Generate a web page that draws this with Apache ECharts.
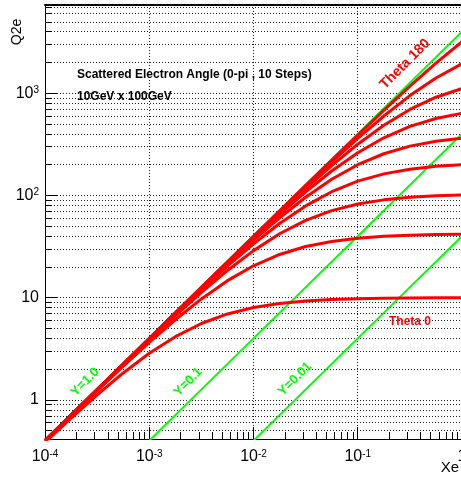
<!DOCTYPE html>
<html><head><meta charset="utf-8">
<script src="https://cdn.jsdelivr.net/npm/echarts@6/dist/echarts.min.js"></script>
<style>html,body{margin:0;padding:0;background:#fff;}#c{width:461px;height:479px;}</style>
</head><body><div id="c"></div>
<script>
// ---- data ----
const xe = [1e-4, 1.778e-4, 3.162e-4, 5.623e-4, 1e-3, 1.778e-3, 3.162e-3, 5.623e-3, 0.01, 0.01778, 0.03162, 0.05623, 0.1, 0.1778, 0.3162, 0.5623, 1];
const theta1 = [0.385, 0.664, 1.123, 1.837, 2.860, 4.162, 5.595, 6.939, 8.022, 8.794, 9.297, 9.606, 9.789, 9.894, 9.955, 9.990, 10.01];
const theta2 = [0.396, 0.700, 1.228, 2.136, 3.654, 6.088, 9.734, 14.68, 20.54, 26.50, 31.66, 35.55, 38.20, 39.86, 40.87, 41.45, 41.79];
const theta3 = [0.398, 0.706, 1.250, 2.202, 3.852, 6.657, 11.28, 18.49, 28.88, 42.22, 57.03, 71.05, 82.44, 90.62, 95.97, 99.27, 101.2];
const theta4 = [0.399, 0.709, 1.257, 2.226, 3.926, 6.881, 11.93, 20.33, 33.63, 53.21, 79.10, 108.9, 138.2, 162.8, 180.9, 193.0, 200.6];
const theta5 = [0.400, 0.710, 1.261, 2.237, 3.960, 6.989, 12.26, 21.30, 36.36, 60.39, 96.10, 144.0, 200.0, 256.0, 303.9, 339.6, 363.6];
const theta6 = [0.400, 0.711, 1.263, 2.243, 3.979, 7.047, 12.44, 21.85, 37.99, 65.03, 108.4, 173.5, 261.8, 366.9, 473.9, 566.8, 637.1];
const theta7 = [0.400, 0.711, 1.264, 2.246, 3.990, 7.080, 12.55, 22.17, 38.99, 67.99, 116.9, 196.3, 317.6, 486.6, 694.6, 914.4, 1112];
const theta8 = [0.400, 0.711, 1.265, 2.248, 3.996, 7.100, 12.61, 22.36, 39.58, 69.82, 122.4, 212.3, 361.8, 598.9, 948.3, 1411, 1946];
const theta9 = [0.400, 0.711, 1.265, 2.249, 3.999, 7.110, 12.64, 22.46, 39.90, 70.82, 125.5, 221.8, 390.2, 680.9, 1172, 1971, 3198];

const yLine1X = [1e-4, 1e-3, 1e-2, 1e-1, 1];
const yLine1 = [0.4, 4, 40, 400, 4000];
const yLine01X = [1e-3, 1e-2, 1e-1, 1];
const yLine01 = [0.4, 4, 40, 400];
const yLine001X = [1e-2, 1e-1, 1];
const yLine001 = [0.4, 4, 40];

const xTicks = [1e-4, 1e-3, 1e-2, 1e-1, 1];
const yTicks = [1, 10, 100, 1000];
const minorMult = [2, 3, 4, 5, 6, 7, 8, 9];
const xDecades = [1e-4, 1e-3, 1e-2, 1e-1];
const yDecades = [0.1, 1, 10, 100, 1000];

// ---- build ----
const xMinor = [];
xDecades.forEach(d => minorMult.forEach(m => xMinor.push(+(m * d).toPrecision(3))));
const yMinor = [];
yDecades.forEach(d => minorMult.forEach(m => yMinor.push(+(m * d).toPrecision(3))));

const FONT = "'Liberation Sans Narrow','Liberation Sans',Arial,sans-serif";
const rich = {
  b: {fontSize: 16, fontFamily: FONT, color: '#000'},
  s: {fontSize: 10, fontFamily: FONT, color: '#000', verticalAlign: 'top'}
};
function supLabel(v) {
  const e = Math.round(Math.log10(v));
  if (e === 0) return '{b|1}';
  if (e === 1) return '{b|10}';
  return '{b|10}{s|' + e + '}';
}
const pairs = (xs, ys) => xs.map((x, i) => [x, ys[i]]);
const grid = {type: [1, 2], color: '#222', width: 1};
const XMIN = 1e-4, XMAX = 1, YMIN = 0.415, YMAX = 7300;

const series = [];
[[yLine1X, yLine1, 'Y=1.0'], [yLine01X, yLine01, 'Y=0.1'], [yLine001X, yLine001, 'Y=0.01']].forEach(g => {
  series.push({type: 'line', name: g[2], data: pairs(g[0], g[1]), symbol: 'none', clip: true,
    lineStyle: {color: '#00ff00', width: 2}, z: 2, silent: true});
});
[theta1, theta2, theta3, theta4, theta5, theta6, theta7, theta8, theta9].forEach((t, i) => {
  series.push({type: 'line', name: 'Theta ' + (18 * (i + 1)), data: pairs(xe, t), symbol: 'none', clip: true,
    lineStyle: {color: '#ff0000', width: 3}, z: 3, silent: true});
});

function txt(x, y, text, font, fill, rot) {
  return {type: 'text', x: x, y: y, rotation: rot || 0, z: 10,
    style: {text: text, font: font, fill: fill, align: 'center', verticalAlign: 'middle',
            textAlign: 'center', textVerticalAlign: 'middle'}};
}
const BOLD12 = 'bold 12px "Liberation Sans"';

const option = {
  animation: false,
  backgroundColor: '#fff',
  grid: {left: 45, right: -1, top: 5, bottom: 40, containLabel: false, outerBoundsMode: 'none'},
  xAxis: [
    {type: 'log', min: XMIN, max: XMAX, position: 'bottom',
      axisLine: {show: true, onZero: false, lineStyle: {color: '#000', width: 1}},
      axisTick: {show: true, inside: true, length: 12, customValues: xTicks, lineStyle: {color: '#000', width: 1}},
      axisLabel: {show: true, customValues: xTicks, formatter: supLabel, rich: rich, margin: 10},
      splitLine: {show: true, customValues: xTicks, lineStyle: grid},
      minorTick: {show: false}, minorSplitLine: {show: false}},
    {type: 'log', min: XMIN, max: XMAX, position: 'bottom',
      axisLine: {show: false, onZero: false},
      axisTick: {show: true, inside: true, length: 7, customValues: xMinor, lineStyle: {color: '#000', width: 1}},
      axisLabel: {show: false}, splitLine: {show: false}},
    {type: 'log', min: XMIN, max: XMAX, position: 'top',
      axisLine: {show: true, onZero: false, lineStyle: {color: '#000', width: 2}},
      axisTick: {show: false}, axisLabel: {show: false}, splitLine: {show: false}}
  ],
  yAxis: [
    {type: 'log', min: YMIN, max: YMAX, position: 'left',
      axisLine: {show: true, onZero: false, lineStyle: {color: '#000', width: 1}},
      axisTick: {show: true, inside: true, length: 12, customValues: yTicks, lineStyle: {color: '#000', width: 1}},
      axisLabel: {show: true, customValues: yTicks, formatter: supLabel, rich: rich, margin: 6},
      splitLine: {show: true, customValues: yTicks, lineStyle: grid},
      minorTick: {show: false}, minorSplitLine: {show: false}},
    {type: 'log', min: YMIN, max: YMAX, position: 'left',
      axisLine: {show: false, onZero: false},
      axisTick: {show: true, inside: true, length: 7, customValues: yMinor, lineStyle: {color: '#000', width: 1}},
      axisLabel: {show: false},
      splitLine: {show: true, customValues: yMinor, lineStyle: grid}}
  ],
  series: series,
  graphic: [
    {type: 'text', x: 77, y: 75, z: 10, style: {text: 'Scattered Electron Angle (0-pi , 10 Steps)', font: BOLD12, fill: '#000', verticalAlign: 'middle', textVerticalAlign: 'middle'}},
    {type: 'text', x: 77, y: 97, z: 10, style: {text: '10GeV x 100GeV', font: BOLD12, fill: '#000', verticalAlign: 'middle', textVerticalAlign: 'middle'}},
    txt(405, 64, 'Theta 180', 'bold 14px "Liberation Sans"', '#ff0000', Math.PI / 4),
    txt(410, 322, 'Theta 0', BOLD12, '#ff0000', 0),
    txt(85, 382, 'Y=1.0', 'bold 13px "Liberation Sans"', '#00ff00', Math.PI / 4),
    txt(188, 382, 'Y=0.1', 'bold 13px "Liberation Sans"', '#00ff00', Math.PI / 4),
    txt(295, 379, 'Y=0.01', 'bold 13px "Liberation Sans"', '#00ff00', Math.PI / 4),
    txt(17, 32, 'Q2e', '14px "Liberation Sans"', '#000', Math.PI / 2),
    txt(450, 468, 'Xe', '15px "Liberation Sans"', '#000', 0)
  ]
};
const chart = echarts.init(document.getElementById('c'), null, {renderer: 'canvas'});
chart.setOption(option);
</script>
</body></html>
